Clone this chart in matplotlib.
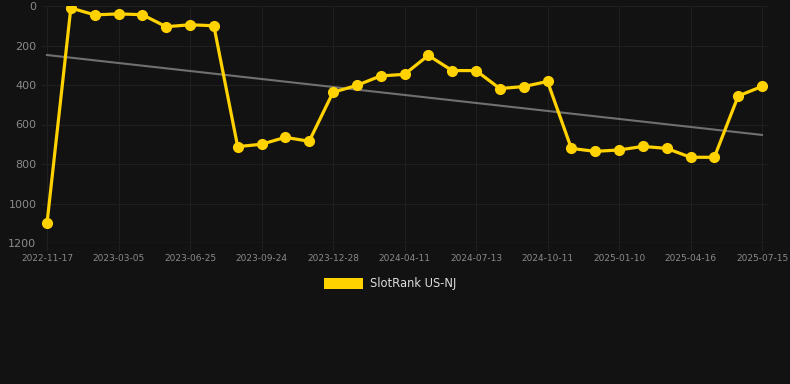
import numpy as np
import matplotlib
matplotlib.use("Agg")
import matplotlib.pyplot as plt
from matplotlib.patches import Patch

tick_labels = ["2022-11-17", "2023-03-05", "2023-06-25", "2023-09-24", "2023-12-28",
               "2024-04-11", "2024-07-13", "2024-10-11", "2025-01-10", "2025-04-16",
               "2025-07-15"]
ranks = [1100, 10, 45, 40, 44, 105, 95, 100, 712, 700, 665, 685, 437, 402, 354, 346,
         250, 327, 327, 418, 408, 382, 721, 736, 729, 711, 721, 766, 766, 456, 407]
series_name = "SlotRank US-NJ"

W, H = 790, 384
fig = plt.figure(figsize=(W / 100, H / 100), dpi=100, facecolor="#121212")
left, right, top, bottom = 42, 768, 6, 243
ax = fig.add_axes([left / W, 1 - bottom / H, (right - left) / W, (bottom - top) / H])
ax.set_facecolor("#121212")

x = np.arange(len(ranks))
spacing = (762 - 47) / (len(ranks) - 1)
ax.set_xlim(-(47 - left) / spacing, len(ranks) - 1 + (right - 762) / spacing)
ax.set_ylim(1200, 0)

# trend line (linear regression)
coef = np.polyfit(x, ranks, 1)
ax.plot(x[[0, -1]], np.polyval(coef, x[[0, -1]]), color="#707070", lw=1.5, zorder=2)

ax.plot(x, ranks, color="#FFD200", lw=2.3, marker="o", markersize=7, zorder=3,
        solid_joinstyle="round")

ax.set_xticks(x[::3])
ax.set_xticklabels(tick_labels)
ax.set_yticks(np.arange(0, 1201, 200))
ax.grid(True, color="#1f1f1f", lw=0.8)
ax.set_axisbelow(True)
for s in ax.spines.values():
    s.set_visible(False)
ax.axhline(1200, color="#2a2a2a", lw=1, zorder=1)
ax.tick_params(axis="y", length=0, labelsize=8, labelcolor="#8a8a8a", pad=4)
ax.tick_params(axis="x", length=6, width=0.8, color="#1f1f1f", labelsize=6.5,
               labelcolor="#8a8a8a", pad=2)

fig.legend(handles=[Patch(facecolor="#FFD200", edgecolor="none")], labels=[series_name],
           loc="center", bbox_to_anchor=(390 / W, 1 - 284 / H), frameon=False,
           fontsize=8.3, labelcolor="#dddddd", handlelength=3.4, handleheight=1.1,
           handletextpad=0.6)

fig.savefig("out.png", dpi=100, facecolor=fig.get_facecolor())
